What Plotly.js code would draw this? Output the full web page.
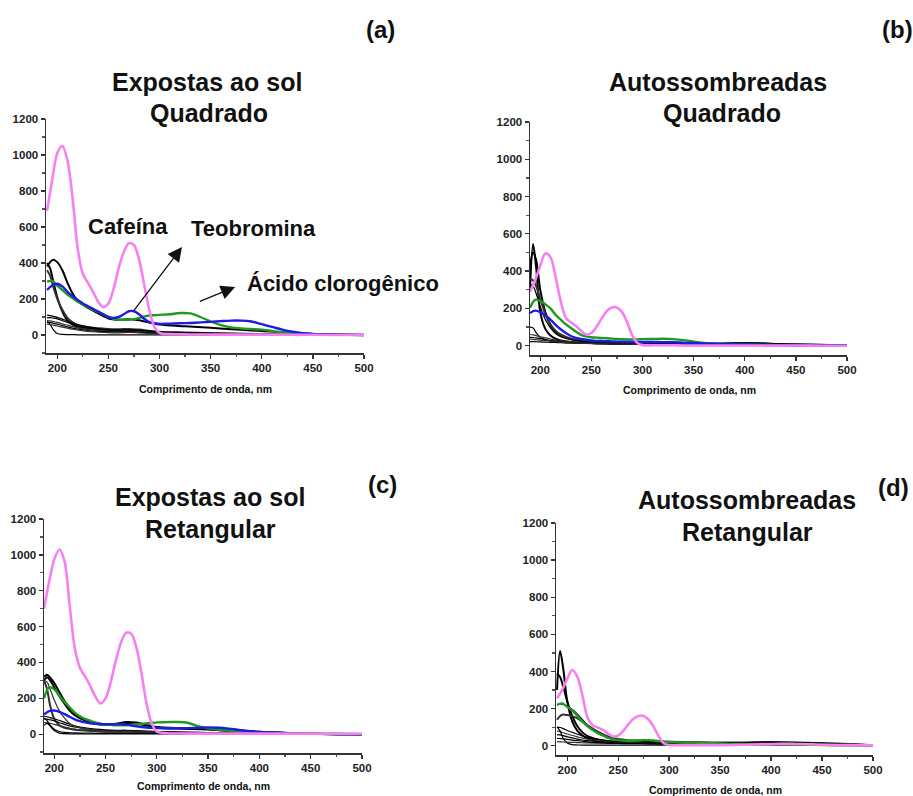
<!DOCTYPE html>
<html>
<head>
<meta charset="utf-8">
<script src="https://cdn.plot.ly/plotly-3.0.1.min.js"></script>
<style>html,body{margin:0;padding:0;background:#fff;}#chart{width:913px;height:796px;}</style>
</head>
<body>
<div id="chart"></div>
<script>
// Wavelength grids (nm)
const wl  = [190,195,200,205,210,215,220,225,230,235,240,245,250,255,260,265,270,275,280,285,290,295,300,310,320,330,340,350,360,370,380,390,400,410,420,430,440,450,475,500];
const wlK = [190,193,196,200,205,210,215,220,230,240,250,260,270,280,300,325,350,375,400,450,500];

// ---- (a) Expostas ao sol, Quadrado ----
const pinkA  = [690,860,1010,1050,970,760,480,340,290,240,185,155,175,255,370,460,510,500,420,280,140,45,12,5,4,3,3,2,2,2,2,2,2,2,2,1,1,1,0,0];
const greenA = [296,300,275,250,225,205,185,170,155,140,128,115,100,90,85,85,85,88,95,102,108,110,112,115,122,120,100,75,55,42,36,33,30,22,15,10,7,5,2,0];
const blueA  = [250,275,285,270,240,215,195,175,160,145,130,115,100,95,100,115,132,132,115,90,72,65,62,63,65,67,70,73,77,80,80,75,60,45,30,18,10,6,2,0];
const blackA = [
  [380,405,418,405,360,290,230,190,150,120,92,85,88,82,58,48,40,30,22,6,0],
  [400,370,300,210,130,80,58,45,35,28,24,22,24,20,14,10,8,6,4,1,0],
  [360,330,270,200,140,95,70,55,44,38,33,32,34,30,18,14,10,8,5,1,0],
  [110,108,104,98,88,78,66,58,45,36,30,28,30,27,18,14,10,8,5,1,0],
  [95,96,94,90,80,70,60,50,38,32,26,24,26,22,14,10,8,6,4,1,0],
  [80,78,75,70,62,55,47,40,32,26,22,20,22,18,12,8,6,5,3,1,0],
  [70,70,66,60,52,45,38,33,25,20,17,16,18,15,10,7,5,4,3,1,0],
  [75,60,30,8,3,2,2,1,1,1,1,1,1,1,1,1,1,1,1,0,0],
  [60,58,55,50,44,38,32,28,20,16,13,12,14,12,8,6,4,3,2,1,0]
];

// ---- (b) Autossombreadas, Quadrado ----
const pinkB  = [290,350,430,495,475,370,240,150,125,105,80,60,68,100,145,185,205,205,180,125,55,15,3,2,2,2,1,1,1,1,1,1,1,1,1,1,1,1,0,0];
const greenB = [204,246,240,222,200,165,140,115,95,75,58,50,45,43,41,40,38,36,35,34,34,34,35,36,37,35,30,22,15,10,8,7,6,5,4,3,3,2,1,0];
const blueB  = [175,188,180,162,140,112,88,68,52,42,36,32,28,26,25,24,23,22,22,21,21,20,20,20,19,18,16,14,12,10,8,7,6,5,4,3,3,2,1,0];
const blackB = [
  [300,545,420,180,90,55,38,28,20,16,14,13,12,12,11,10,9,10,14,6,2],
  [420,500,460,300,180,110,75,55,36,27,22,19,17,16,14,12,11,11,13,6,2],
  [360,350,320,250,170,115,80,60,38,28,22,19,17,16,14,12,11,11,13,6,2],
  [330,320,280,210,140,95,65,48,32,24,20,17,15,14,12,11,10,10,12,5,2],
  [100,95,70,45,32,26,22,19,15,13,12,11,10,10,9,8,8,8,10,5,2],
  [60,58,54,48,42,36,30,26,20,16,14,12,11,10,9,8,7,7,9,4,1],
  [45,44,42,38,33,28,24,21,17,14,12,11,10,10,9,8,7,7,9,4,1],
  [22,22,21,20,19,18,17,16,15,14,13,12,11,11,10,9,8,9,14,6,1],
  [35,34,32,30,27,24,21,18,15,13,11,10,9,9,8,7,6,6,8,4,1]
];

// ---- (c) Expostas ao sol, Retangular ----
const pinkC  = [700,850,975,1030,965,720,480,370,322,270,210,172,200,290,410,510,565,560,485,340,170,60,15,5,4,3,3,3,3,3,3,3,3,3,3,3,3,3,2,2];
const greenC = [200,262,250,215,180,150,120,100,85,75,65,58,54,52,50,50,50,52,55,58,60,63,66,67,68,64,45,32,25,20,15,12,10,8,6,5,4,3,1,0];
const blueC  = [110,128,132,125,112,97,83,73,66,61,58,56,55,55,55,55,53,48,44,40,37,35,34,33,33,34,36,38,36,31,24,17,12,9,7,5,4,3,1,0];
const blackC = [
  [320,332,315,285,235,185,145,115,82,62,55,58,68,65,40,34,30,20,14,3,0],
  [300,318,300,262,212,170,132,106,76,58,52,54,62,60,36,30,26,16,12,3,0],
  [300,250,160,85,50,36,30,25,20,16,14,13,13,12,10,8,7,5,4,1,0],
  [100,97,92,86,76,66,56,47,36,28,24,22,22,20,15,12,9,6,4,1,0],
  [85,84,80,74,64,55,46,40,30,23,20,18,18,16,12,9,7,5,3,1,0],
  [65,64,60,55,47,40,33,28,21,17,14,13,13,12,9,7,5,4,3,1,0],
  [50,60,45,20,6,3,2,2,1,1,1,1,1,1,1,1,1,1,1,0,0],
  [90,75,50,28,15,10,8,7,6,5,5,5,5,5,4,3,3,2,2,1,0],
  [300,290,250,190,130,90,60,45,30,22,18,16,16,15,12,10,8,6,4,1,0]
];

// ---- (d) Autossombreadas, Retangular ----
const pinkD  = [255,300,360,408,370,270,150,110,98,85,65,50,55,80,115,145,160,160,140,100,48,12,4,3,3,3,3,3,4,5,6,7,8,10,10,9,7,5,3,2];
const greenD = [220,228,210,190,160,130,105,85,68,55,42,34,30,28,27,27,28,30,30,28,25,22,20,18,17,16,14,12,10,9,8,8,8,8,7,6,5,4,2,0];
const blackD = [
  [300,510,420,240,130,80,55,40,26,20,17,16,16,16,15,14,13,14,16,10,2],
  [390,370,320,240,160,105,72,52,34,25,20,18,18,18,16,15,14,15,18,12,3],
  [140,160,168,165,158,148,130,110,76,50,36,30,28,25,21,19,17,18,20,14,3],
  [220,225,222,212,195,170,140,110,72,46,33,27,25,23,20,18,16,17,19,13,3],
  [100,98,92,82,72,62,52,44,34,26,21,18,17,16,14,13,12,13,15,10,2],
  [80,76,70,63,55,48,41,35,27,21,17,15,14,13,12,11,10,11,13,9,2],
  [60,58,54,48,42,36,31,27,21,17,14,12,12,11,10,9,9,10,12,8,2],
  [100,80,40,15,6,4,3,3,3,3,3,3,3,3,3,3,3,3,3,2,1],
  [22,21,20,19,18,17,16,15,14,13,12,12,12,12,11,10,10,11,14,9,2],
  [40,39,37,34,30,27,24,21,17,14,12,11,11,10,10,9,9,10,12,8,2]
];

const PINK = '#f77ff2', GREEN = '#1e9b1e', BLUE = '#1c1ce6';
const traces = [];
function addPanel(xa, ya, blacks, green, blue, pink) {
  blacks.forEach((y, i) => {
    traces.push({x: wlK, y: y, xaxis: xa, yaxis: ya, type: 'scatter', mode: 'lines',
      line: {color: i % 3 === 2 ? '#333' : '#000', width: i < 3 ? 2 : 1.2, shape: 'spline', smoothing: 0.9},
      hoverinfo: 'skip', showlegend: false});
  });
  if (green) traces.push({x: wl, y: green, xaxis: xa, yaxis: ya, type: 'scatter', mode: 'lines',
      line: {color: GREEN, width: 2.4, shape: 'spline', smoothing: 0.9}, showlegend: false});
  if (blue) traces.push({x: wl, y: blue, xaxis: xa, yaxis: ya, type: 'scatter', mode: 'lines',
      line: {color: BLUE, width: 2.4, shape: 'spline', smoothing: 0.9}, showlegend: false});
  if (pink) traces.push({x: wl, y: pink, xaxis: xa, yaxis: ya, type: 'scatter', mode: 'lines',
      line: {color: PINK, width: 2.6, shape: 'spline', smoothing: 0.9}, showlegend: false});
}
addPanel('x', 'y', blackA, greenA, blueA, pinkA);
addPanel('x2', 'y2', blackB, greenB, blueB, pinkB);
addPanel('x3', 'y3', blackC, greenC, blueC, pinkC);
addPanel('x4', 'y4', blackD, greenD, null, pinkD);

const W = 913, H = 796;
const px = v => v / W, py = v => 1 - v / H;
const tickFont = {family: 'Arial, Liberation Sans, sans-serif', size: 11.5, color: '#222', weight: 'bold'};
function xAx(x0, x1, range, anchor) {
  return {domain: [px(x0), px(x1)], range: range, anchor: anchor, showgrid: false, zeroline: false,
    showline: true, linecolor: '#333', linewidth: 1.5, ticks: 'outside', ticklen: 4, tickwidth: 1.3,
    tickcolor: '#333', tick0: 200, dtick: 50, tickfont: tickFont,
    minor: {ticks: 'outside', dtick: 25, tick0: 200, ticklen: 2.5, tickcolor: '#555', showgrid: false}};
}
function yAx(y0, y1, range, anchor) {
  return {domain: [py(y1), py(y0)], range: range, anchor: anchor, showgrid: false, zeroline: false,
    showline: true, linecolor: '#333', linewidth: 1.5, ticks: 'outside', ticklen: 4, tickwidth: 1.3,
    tickcolor: '#333', tick0: 0, dtick: 200, tickfont: tickFont,
    minor: {ticks: 'outside', dtick: 100, tick0: 0, ticklen: 2.5, tickcolor: '#555', showgrid: false}};
}

const F = 'Arial, Liberation Sans, sans-serif';
function txt(text, x, y, size) {
  return {text: text, x: px(x), y: py(y), xref: 'paper', yref: 'paper', showarrow: false,
    xanchor: 'center', yanchor: 'middle', font: {family: F, size: size, color: '#111', weight: 'bold'}};
}
const xTitle = 'Comprimento de onda, nm';
const annotations = [
  txt('(a)', 380, 30, 24), txt('(b)', 897, 30, 24), txt('(c)', 382, 485, 24), txt('(d)', 893, 487, 24),
  txt('Expostas ao sol', 207, 82, 25), txt('Quadrado', 209, 113, 25),
  txt('Autossombreadas', 718, 82, 25), txt('Quadrado', 722, 113, 25),
  txt('Expostas ao sol', 210, 497, 25), txt('Retangular', 210, 529, 25),
  txt('Autossombreadas', 747, 500, 25), txt('Retangular', 747, 532, 25),
  txt(xTitle, 205, 389, 10.5), txt(xTitle, 689, 390, 10.5), txt(xTitle, 203, 786, 10.5), txt(xTitle, 715, 790, 10.5),
  txt('Cafeína', 128, 226, 22), txt('Teobromina', 253, 228, 22), txt('Ácido clorogênico', 343, 283, 22),
  {x: 322, y: 489, ax: 274, ay: 128, xref: 'x', yref: 'y', axref: 'x', ayref: 'y', text: '', showarrow: true,
   arrowhead: 2, arrowsize: 2.2, arrowwidth: 1.3, arrowcolor: '#111'},
  {x: 374, y: 267, ax: 338, ay: 183, xref: 'x', yref: 'y', axref: 'x', ayref: 'y', text: '', showarrow: true,
   arrowhead: 2, arrowsize: 2.2, arrowwidth: 1.3, arrowcolor: '#111'}
];

const layout = {
  width: W, height: H, margin: {l: 0, r: 0, t: 0, b: 0},
  paper_bgcolor: '#fff', plot_bgcolor: 'rgba(0,0,0,0)', showlegend: false,
  font: {family: F},
  xaxis:  xAx(46, 364, [189, 500], 'y'),   yaxis:  yAx(119, 353, [-100, 1200], 'x'),
  xaxis2: xAx(530, 847, [190, 500], 'y2'), yaxis2: yAx(122, 355, [-50, 1200], 'x2'),
  xaxis3: xAx(44, 362, [190, 500], 'y3'),  yaxis3: yAx(519, 753, [-105, 1200], 'x3'),
  xaxis4: xAx(556, 873, [189, 500], 'y4'), yaxis4: yAx(523, 755, [-50, 1200], 'x4'),
  annotations: annotations
};
Plotly.newPlot('chart', traces, layout, {staticPlot: true, displayModeBar: false});
</script>
</body>
</html>
